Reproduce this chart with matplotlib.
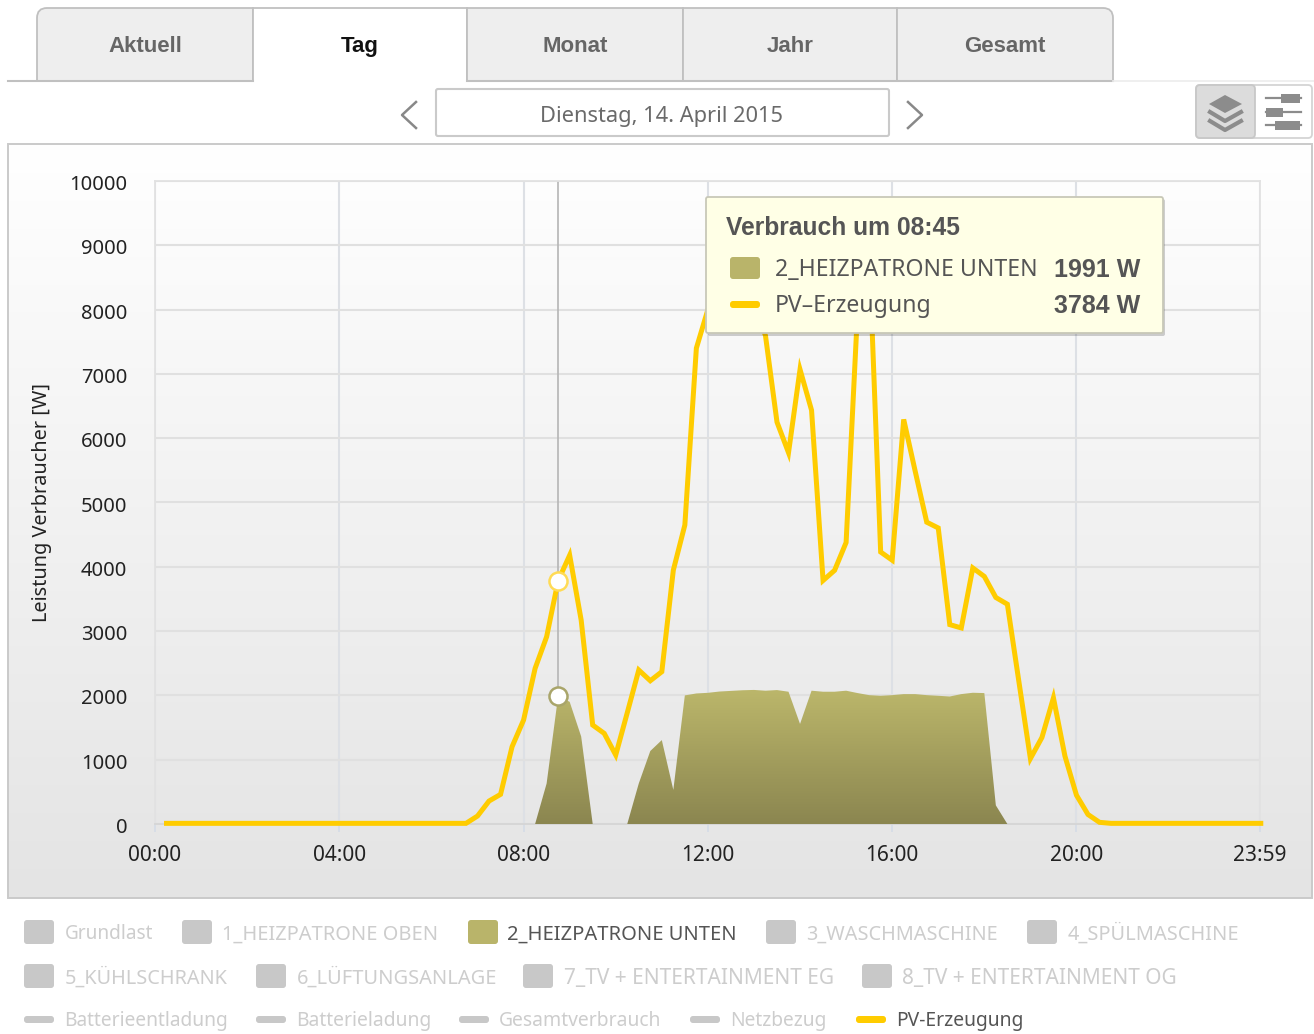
#!/usr/bin/env python3
"""Tagesansicht Verbrauch / PV-Erzeugung, 14. April 2015."""

import matplotlib

matplotlib.use("Agg")
import matplotlib.pyplot as plt
import numpy as np
from matplotlib.patches import FancyBboxPatch, PathPatch, Polygon, Rectangle
from matplotlib.path import Path
from matplotlib.transforms import ScaledTranslation

W, H = 1314, 1034
FONT = "Noto Sans"
BOLD_FONT = "Liberation Sans"

# value per quarter hour, step 1 = 00:15 ... step 96 = 24:00
pv_watts = [
    10, 10, 10, 10, 10, 10, 10, 10, 10, 10, 10, 10, 10, 10, 10, 10,
    10, 10, 10, 10, 10, 10, 10, 10, 10, 10, 10, 124, 357, 461, 1202, 1617,
    2420, 2912, 3784, 4180, 3170, 1539, 1409, 1073, 1730, 2394, 2228, 2368, 3948, 4650,
    7400, 8000, 8400, 8700, 8500, 8100, 7595, 6250, 5775, 7068, 6435, 3787, 3945, 4378,
    8000, 8900, 4230, 4103, 6292, 5485, 4694, 4604, 3101, 3049, 3982, 3850, 3523, 3418,
    2215, 1018, 1345, 1962, 1055, 448, 148, 26, 10, 10, 10, 10, 10, 10, 10, 10,
    10, 10, 10, 10, 10, 10,
]
heiz_steps_a = [33, 34, 35, 36, 37, 38]
heiz_watts_a = [0, 630, 1991, 1900, 1360, 0]
heiz_steps_b = [
    41, 42, 43, 44, 45, 46, 47, 48, 49, 50, 51, 52, 53, 54, 55, 56, 57,
    58, 59, 60, 61, 62, 63, 64, 65, 66, 67, 68, 69, 70, 71, 72, 73, 74,
]
heiz_watts_b = [
    0, 630, 1135, 1305, 530, 2000, 2030, 2040, 2060, 2070, 2080, 2085, 2073, 2083, 2057, 1556, 2073,
    2057, 2057, 2073, 2036, 2004, 1994, 2004, 2020, 2020, 2004, 1994, 1983, 2020, 2041, 2036, 290, 0,
]

x_ticks = [0, 4, 8, 12, 16, 20, 23 + 59 / 60]
x_labels = ["00:00", "04:00", "08:00", "12:00", "16:00", "20:00", "23:59"]
y_ticks = [0, 1000, 2000, 3000, 4000, 5000, 6000, 7000, 8000, 9000, 10000]

tab_names = ["Aktuell", "Tag", "Monat", "Jahr", "Gesamt"]
tab_edges = [37, 253, 467, 683, 897, 1113]

legend_row1 = ["Grundlast", "1_HEIZPATRONE OBEN", "2_HEIZPATRONE UNTEN", "3_WASCHMASCHINE", "4_SPÜLMASCHINE"]
legend_row2 = ["5_KÜHLSCHRANK", "6_LÜFTUNGSANLAGE", "7_TV + ENTERTAINMENT EG", "8_TV + ENTERTAINMENT OG"]
legend_row3 = ["Batterieentladung", "Batterieladung", "Gesamtverbrauch", "Netzbezug", "PV-Erzeugung"]
row1_x = [24, 182, 468, 766, 1027]
row2_x = [24, 256, 523, 862]
row3_x = [24, 256, 459, 690, 856]
row1_size = [13.7, 14.4, 14.5, 14.3, 14.4]
row2_size = [14.3, 14.4, 15.05, 15.05]
row3_size = [13.8, 13.9, 13.9, 13.8, 13.9]

YELLOW = "#ffcc00"
OLIVE = "#b9b46a"
INACTIVE = "#c8c8c8"
INACTIVE_TEXT = "#cdcdcd"
DARK_TEXT = "#555555"
BORDER = "#cacaca"
TAB_BORDER = "#c0c0c0"


def vgrad(ax, c_top, c_bottom, extent, zorder=0):
    top = np.array(matplotlib.colors.to_rgb(c_top))
    bottom = np.array(matplotlib.colors.to_rgb(c_bottom))
    t = np.linspace(0, 1, 256)[:, None, None]
    img = top[None, None, :] * (1 - t) + bottom[None, None, :] * t
    return ax.imshow(img, extent=extent, aspect="auto", zorder=zorder, interpolation="bilinear")


def rrect(ax, x0, y0, x1, y1, r, **kw):
    p = FancyBboxPatch((x0 + r, y0 + r), x1 - x0 - 2 * r, y1 - y0 - 2 * r,
                       boxstyle=f"round,pad={r},rounding_size={r}", **kw)
    ax.add_patch(p)
    return p


def label(ax, x, y, s, size, color=DARK_TEXT, ha="left", bold=False, **kw):
    # y is the middle of the capitals, so words with descenders stay on one baseline
    ax.text(x, y + 0.5 * size, s, ha=ha, va="baseline", fontsize=size, color=color,
            family=BOLD_FONT if bold else FONT, fontweight="bold" if bold else "normal", **kw)


def tab_patch(x0, x1, y0, y1, r_left, r_right, **kw):
    verts = [(x0, y1), (x0, y0 + r_left), (x0, y0), (x0 + r_left, y0),
             (x1 - r_right, y0), (x1, y0), (x1, y0 + r_right), (x1, y1)]
    codes = [Path.MOVETO, Path.LINETO, Path.CURVE3, Path.CURVE3,
             Path.LINETO, Path.CURVE3, Path.CURVE3, Path.LINETO]
    return PathPatch(Path(verts, codes), **kw)


def draw_chrome(ax):
    # panel behind the chart
    vgrad(ax, "#ffffff", "#e4e4e4", (8, 1312, 898, 144))
    ax.add_patch(Rectangle((8, 144), 1304, 754, fc="none", ec=BORDER, lw=1.4))
    ax.set_xlim(0, W)
    ax.set_ylim(H, 0)

    # tabs
    ax.plot([8, 253], [81, 81], color=TAB_BORDER, lw=1.5)
    ax.plot([467, 1113], [81, 81], color=TAB_BORDER, lw=1.5)
    ax.plot([1113, 1314], [81, 81], color="#ececec", lw=1.2)
    for i, name in enumerate(tab_names):
        x0, x1 = tab_edges[i], tab_edges[i + 1]
        active = name == "Tag"
        fc = "#ffffff" if active else "#eeeeee"
        ax.add_patch(tab_patch(x0, x1, 8, 81, 10 if i == 0 else 0, 10 if i == 4 else 0,
                               fc=fc, ec=TAB_BORDER, lw=1.3))
        label(ax, (x0 + x1) / 2, 44, name, 16, color="#111111" if active else "#666666",
              ha="center", bold=True)

    # date box and arrows
    rrect(ax, 436, 89, 889, 136, 2, fc="white", ec=BORDER, lw=1.5)
    label(ax, 662, 114, "Dienstag, 14. April 2015", 15.7, color="#6a6a6a", ha="center")
    ax.plot([416, 402, 416], [102, 115, 128], color="#888888", lw=1.8)
    ax.plot([908, 922, 908], [102, 115, 128], color="#888888", lw=1.8)

    # view buttons
    rrect(ax, 1196, 85, 1312, 138, 4, fc="white", ec="#d4d4d4", lw=1.3)
    rrect(ax, 1196, 85, 1255, 138, 4, fc="#dcdcdc", ec="#c8c8c8", lw=1.3)
    ax.add_patch(Polygon([(1225, 95), (1242, 104), (1225, 113), (1209, 104)], fc="#8c8c8c", ec="none"))
    for dy in (0, 9):
        ax.plot([1210, 1225, 1241], [112 + dy, 121 + dy, 112 + dy], color="#8c8c8c", lw=3)
    for y, x0, x1 in [(98, 1281, 1300), (112, 1266, 1283), (125, 1275, 1300)]:
        ax.plot([1266, 1301], [y, y], color="#8c8c8c", lw=1.6)
        ax.add_patch(Rectangle((x0, y - 4.5), x1 - x0, 9, fc="#8c8c8c", ec="none"))

    # legend below the panel
    for names, xs, sizes, y in [(legend_row1, row1_x, row1_size, 932), (legend_row2, row2_x, row2_size, 976)]:
        for name, x, size in zip(names, xs, sizes):
            active = name == "2_HEIZPATRONE UNTEN"
            rrect(ax, x, y - 12, x + 30, y + 12, 3, fc=OLIVE if active else INACTIVE, ec="none")
            label(ax, x + 39 if active else x + 40.5, y + 0.5, name, size,
                  color=DARK_TEXT if active else INACTIVE_TEXT)
    for name, x, size in zip(legend_row3, row3_x, row3_size):
        active = name == "PV-Erzeugung"
        rrect(ax, x, 1016, x + 30, 1023, 3, fc=YELLOW if active else INACTIVE, ec="none")
        label(ax, x + 40, 1019.5, name, size, color=DARK_TEXT if active else INACTIVE_TEXT)

    ax.text(42, 503, "Leistung Verbraucher [W]", rotation=90, ha="center", va="center",
            fontsize=14.3, color="#222222", family=FONT)


def draw_tooltip(ax):
    ax.set_xlim(0, W)
    ax.set_ylim(H, 0)
    ax.axis("off")
    ax.patch.set_alpha(0)
    rrect(ax, 708, 199, 1165, 336, 2, fc="#000000", alpha=0.18, ec="none")
    rrect(ax, 706, 197, 1163, 333, 2, fc="#ffffe6", ec="#c8c8b8", lw=1.3)
    label(ax, 726, 226, "Verbrauch um 08:45", 17.7, bold=True)
    rrect(ax, 730, 257, 760, 279, 3, fc=OLIVE, ec="none")
    label(ax, 775, 268, "2_HEIZPATRONE UNTEN", 16.6)
    label(ax, 1140, 268, "1991 W", 18, ha="right", bold=True)
    rrect(ax, 730, 301, 760, 308, 3, fc=YELLOW, ec="none")
    label(ax, 775, 304, "PV–Erzeugung", 16.6)
    label(ax, 1140, 304, "3784 W", 18, ha="right", bold=True)


def draw_chart(ax):
    ax.patch.set_alpha(0)
    ax.set_xlim(x_ticks[0], x_ticks[-1])
    ax.set_ylim(0, 10000)
    ax.set_xticks(x_ticks, x_labels)
    ax.set_yticks(y_ticks)
    ax.tick_params(axis="x", length=6, width=1.2, color="#d5dce6", pad=9, labelsize=15, labelcolor="#222222")
    ax.tick_params(axis="y", length=0, pad=20, labelsize=14.5, labelcolor="#222222")
    for lab in ax.get_xticklabels() + ax.get_yticklabels():
        lab.set_family(FONT)
    shift = ScaledTranslation(0, -1.5 / 100, ax.figure.dpi_scale_trans)
    for lab in ax.get_yticklabels():
        lab.set_transform(lab.get_transform() + shift)
    ax.grid(axis="y", color="#e0e0e0", lw=1.5)
    ax.grid(axis="x", color="#dde0e5", lw=1.5)
    ax.set_axisbelow(True)
    for side, spine in ax.spines.items():
        spine.set_color("#e2e2e2")
        spine.set_linewidth(1.3)
    ax.spines["bottom"].set_color("#d5d5d5")

    t_pv = np.arange(1, len(pv_watts) + 1) / 4
    ax.axvline(8.75, color="#b5b5b5", lw=1.2, zorder=2)

    # area with vertical gradient, clipped to the two running periods
    t_a = np.array(heiz_steps_a) / 4
    t_b = np.array(heiz_steps_b) / 4
    area_a = Path(np.column_stack([t_a, heiz_watts_a]))
    area_b = Path(np.column_stack([t_b, heiz_watts_b]))
    compound = Path.make_compound_path(area_a, area_b)
    clip = PathPatch(compound, fc="none", ec="none", transform=ax.transData)
    ax.add_patch(clip)
    im = vgrad(ax, "#bcb76b", "#8b8650", (0, 24, 0, 2100), zorder=3)
    im.set_clip_path(clip)
    ax.set_xlim(x_ticks[0], x_ticks[-1])
    ax.set_ylim(0, 10000)

    ax.plot(t_pv, pv_watts, color=YELLOW, lw=3.6, solid_joinstyle="miter", clip_on=False, zorder=4)
    ax.plot([8.75], [3784], "o", ms=13, mfc="white", mec="#ffdb55", mew=1.8, zorder=5)
    ax.plot([8.75], [1991], "o", ms=13, mfc="white", mec="#a9a56a", mew=1.8, zorder=5)


def main() -> None:
    fig = plt.figure(figsize=(W / 100, H / 100), dpi=100, facecolor="white")

    bg = fig.add_axes([0, 0, 1, 1], zorder=0)
    draw_chrome(bg)
    bg.axis("off")

    ax = fig.add_axes([155 / W, 1 - 824 / H, 1105 / W, 643 / H], zorder=1)
    draw_chart(ax)

    fg = fig.add_axes([0, 0, 1, 1], zorder=2)
    draw_tooltip(fg)

    fig.savefig("out.png", dpi=100)
    plt.close(fig)


if __name__ == "__main__":
    main()
